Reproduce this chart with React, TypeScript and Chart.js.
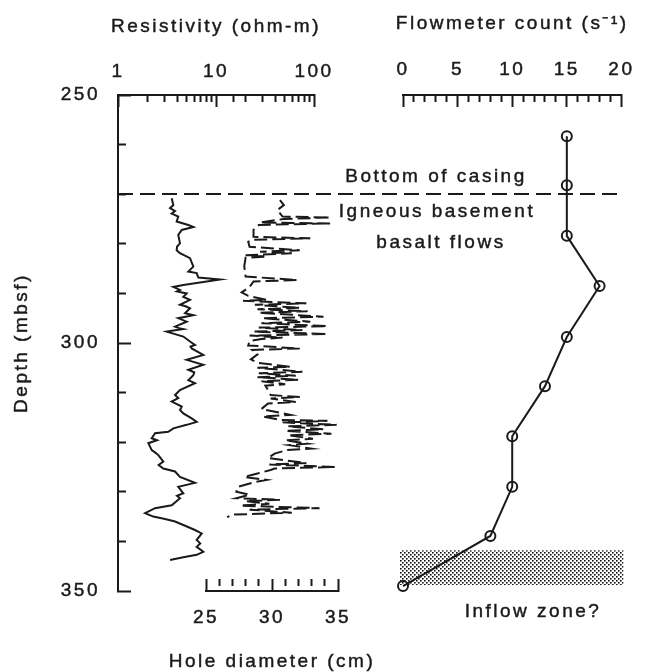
import React, { useEffect, useRef } from "react";
import { Chart, registerables } from "chart.js";

Chart.register(...registerables);

// ---- Resistivity log (ohm-m) against depth (mbsf) ----
const RES_DEPTH = [
  270.8, 272.2, 272.8, 273.4, 273.9, 274.5, 275.5, 276.2, 276.6, 277.2,
  278.2, 279.9, 280.6, 281.3, 281.9, 282.9, 284.6, 285.6, 285.9, 286.8,
  287.2, 288.3, 288.7, 289.3, 289.6, 290.0, 290.7, 291.3, 292.3, 292.6,
  293.0, 294.0, 294.4, 295.0, 295.7, 296.7, 297.0, 297.2, 297.7, 298.7,
  299.7, 300.4, 300.7, 301.1, 302.4, 303.4, 304.4, 305.4, 305.9, 306.5,
  307.5, 308.1, 309.5, 310.5, 311.1, 311.8, 312.8, 313.5, 314.2, 315.2,
  315.9, 316.5, 317.2, 317.9, 318.2, 319.2, 319.6, 320.2, 321.6, 322.1,
  322.6, 323.9, 324.6, 325.3, 325.9, 327.0, 328.2, 329.0, 330.3, 330.8,
  331.3, 332.7, 333.3, 334.3, 335.0, 335.5, 336.0, 336.7, 337.7, 338.4,
  339.7, 340.4, 341.1, 342.1, 342.7, 343.2, 343.75,
];
const RES_OHMM = [
  3.53, 3.67, 3.4, 3.82, 3.53, 4.12, 3.97, 5.22, 5.87, 4.47,
  4.12, 4.29, 4.0, 3.97, 4.29, 5.43, 5.87, 5.22, 6.35, 6.6,
  11.0, 4.64, 3.67, 4.29, 4.0, 5.02, 4.64, 5.43, 4.29, 4.9,
  5.43, 4.83, 5.87, 4.12, 5.02, 3.82, 4.2, 4.64, 3.14, 4.64,
  5.43, 6.1, 5.5, 5.65, 7.42, 5.02, 7.42, 5.22, 6.0, 5.87,
  5.22, 6.1, 4.29, 3.82, 4.12, 3.53, 4.47, 4.3, 4.64, 5.65,
  6.35, 5.02, 3.67, 3.26, 2.39, 2.21, 2.5, 2.04, 2.21, 2.4,
  2.58, 2.9, 2.6, 2.9, 3.82, 4.29, 6.1, 4.12, 4.64, 4.0,
  4.29, 3.53, 2.39, 1.89, 2.29, 3.02, 3.82, 4.64, 6.1, 7.15,
  6.35, 6.9, 6.35, 7.42, 6.35, 4.64, 3.4,
];

// ---- Caliper: hole diameter (cm) against depth (mbsf) ----
const CAL_DEPTH = [
  271.2, 272.2, 273.2, 274.5, 274.7, 275.0, 275.7, 275.9, 276.2, 277.2,
  278.6, 278.9, 279.2, 279.6, 280.6, 281.3, 281.6, 281.9, 282.3, 282.6,
  282.8, 284.5, 286.6, 287.3, 287.6, 288.7, 289.8, 290.5, 291.3, 291.5,
  292.0, 292.3, 292.9, 293.2, 293.6, 293.9, 294.7, 295.0, 295.7, 296.0,
  296.6, 296.9, 297.4, 297.7, 298.2, 298.5, 298.9, 299.2, 299.6, 300.5,
  301.1, 301.4, 302.3, 303.3, 304.0, 304.8, 305.0, 305.8, 306.1, 306.6,
  306.9, 307.4, 307.7, 308.3, 308.6, 309.5, 310.5, 310.9, 311.2, 311.9,
  312.2, 313.3, 314.5, 314.8, 315.5, 315.7, 316.0, 316.5, 316.8, 317.4,
  317.7, 318.3, 318.6, 319.3, 319.6, 320.3, 320.6, 321.3, 321.6, 322.3,
  323.2, 324.2, 324.5, 325.0, 325.3, 325.6, 326.3, 327.0, 327.6, 328.1,
  329.0, 330.0, 330.6, 331.3, 331.6, 331.9, 332.4, 332.8, 333.3, 333.6,
  334.2, 334.6, 335.1,
];
const CAL_CM = [
  30.6, 30.9, 30.4, 30.8, 34.4, 30.9, 29.1, 34.4, 29.0, 28.6,
  28.6, 32.9, 28.5, 28.2, 28.3, 32.1, 29.1, 31.5, 28.0, 29.6,
  28.0, 27.9, 28.0, 31.9, 28.6, 28.3, 27.7, 28.2, 29.6, 27.8,
  32.6, 28.7, 32.1, 28.9, 32.7, 29.0, 33.9, 29.3, 32.9, 29.2,
  34.2, 29.0, 32.3, 28.6, 34.2, 28.3, 30.8, 29.2, 28.3, 28.2,
  32.1, 28.5, 28.9, 28.4, 28.9, 31.4, 28.9, 32.3, 29.0, 31.8,
  28.9, 32.0, 29.2, 31.0, 29.5, 29.7, 29.9, 32.1, 29.9, 31.8,
  29.7, 29.2, 31.4, 29.3, 30.6, 34.2, 30.8, 34.9, 31.2, 33.9,
  31.0, 34.5, 31.2, 33.1, 31.0, 32.7, 31.3, 33.0, 31.1, 30.2,
  29.7, 32.6, 29.8, 34.8, 30.2, 29.9, 28.9, 27.9, 29.6, 28.6,
  27.4, 27.3, 28.3, 27.3, 30.6, 28.0, 29.8, 27.6, 33.6, 28.3,
  31.5, 27.0, 26.6,
];

// ---- Flowmeter stations ----
const FLOW_DEPTH = [258.3, 268.2, 278.4, 288.5, 298.8, 308.7, 318.8, 329.0, 338.9, 349.0];
const FLOW_COUNT = [15, 15, 15, 18, 15, 13, 10, 10, 8, 0];

const CASING_DEPTH = 270;
const INFLOW_TOP = 341.8;
const INFLOW_BOTTOM = 348.8;

const DEPTH_LABELS = [250, 300, 350];
const RES_LABELS = [1, 10, 100];
const DIAM_LABELS = [25, 30, 35];
const FLOW_LABELS = [0, 5, 10, 15, 20];

// ---- page geometry ----
const W = 658;
const H = 672;
const PLOT_TOP = 95;
const PLOT_BOTTOM = 591;
const RES_PANEL = { left: 118, right: 314 };
const DIAM_PANEL = { left: 206, right: 338 };
const FLOW_PANEL = { left: 403, right: 643 };

const INK = "#1a1a1a";
const FONT = { family: '"Liberation Sans", Arial, Helvetica, sans-serif', size: 19 };
const FONT_CSS = '19px "Liberation Sans", Arial, Helvetica, sans-serif';
const SPACING = "2.5px";
const TEXT_STROKE = 0.45;

const near = (list: number[], v: number) => list.some((t) => Math.abs(t - v) < 1e-6);

const letterSpacing = {
  id: "letterSpacing",
  beforeDraw(chart: any) {
    chart.ctx.letterSpacing = SPACING;
  },
};

type Note = { text: string; x: (c: any) => number; y: (c: any) => number; rotate?: boolean };

// text drawn on top of a chart: axis titles and notes
function notesPlugin(id: string, notes: Note[]) {
  return {
    id,
    afterDraw(chart: any) {
      const { ctx } = chart;
      ctx.save();
      ctx.letterSpacing = SPACING;
      ctx.font = FONT_CSS;
      ctx.fillStyle = INK;
      ctx.strokeStyle = INK;
      ctx.lineWidth = TEXT_STROKE;
      ctx.textAlign = "center";
      ctx.textBaseline = "middle";
      for (const n of notes) {
        ctx.save();
        ctx.translate(n.x(chart), n.y(chart));
        if (n.rotate) ctx.rotate(-Math.PI / 2);
        ctx.strokeText(n.text, 0, 0);
        ctx.fillText(n.text, 0, 0);
        ctx.restore();
      }
      ctx.restore();
    },
  };
}

// inward ticks: long for labelled values, short (dashed off near the tip) otherwise
function inwardTicks(isMajor: (v: number) => boolean, majorLen: number, minorLen: number) {
  return {
    display: true,
    drawOnChartArea: false,
    drawTicks: true,
    tickLength: -majorLen,
    tickColor: INK,
    tickWidth: 2,
    tickBorderDash: (ctx: any) =>
      ctx.tick && isMajor(ctx.tick.value) ? [] : [0, majorLen - minorLen, 60, 0],
  };
}

function tickLabels(labels: number[], padding: number, extra: any = {}) {
  return {
    autoSkip: false,
    maxRotation: 0,
    padding,
    color: INK,
    font: FONT,
    textStrokeColor: INK,
    textStrokeWidth: TEXT_STROKE,
    callback: (v: number) => (near(labels, v) ? String(v) : ""),
    ...extra,
  };
}

const border = { display: true, color: INK, width: 2 };

function baseOptions(padding: any) {
  return {
    responsive: false,
    animation: false as const,
    devicePixelRatio: 1,
    events: [] as any[],
    layout: { padding },
    plugins: { legend: { display: false }, tooltip: { enabled: false } },
  };
}

const hiddenDepth = { type: "linear" as const, display: false, reverse: true, min: 250, max: 350 };

function resistivityConfig(): any {
  return {
    type: "scatter",
    data: {
      datasets: [
        {
          data: RES_DEPTH.map((d, i) => ({ x: RES_OHMM[i], y: d })),
          showLine: true,
          borderColor: INK,
          borderWidth: 2,
          pointRadius: 0,
          tension: 0,
          clip: false,
        },
      ],
    },
    options: {
      ...baseOptions({ left: 8, top: 15, right: W - RES_PANEL.right, bottom: H - PLOT_BOTTOM }),
      scales: {
        x: {
          type: "logarithmic",
          position: "top",
          min: 1,
          max: 100,
          ticks: tickLabels(RES_LABELS, 24),
          grid: inwardTicks((v) => near(RES_LABELS, v), 12, 7),
          border,
          afterFit: (s: any) => {
            s.height = PLOT_TOP - 15;
          },
        },
        y: {
          type: "linear",
          position: "left",
          reverse: true,
          min: 250,
          max: 350,
          ticks: tickLabels(DEPTH_LABELS, 31, { stepSize: 10, maxTicksLimit: 1000 }),
          grid: inwardTicks((v) => near(DEPTH_LABELS, v), 13, 8),
          border,
          afterFit: (s: any) => {
            s.width = RES_PANEL.left - 8;
          },
        },
      },
    },
    plugins: [
      letterSpacing,
      notesPlugin("resTitles", [
        { text: "Resistivity (ohm-m)", x: (c) => (c.chartArea.left + c.chartArea.right) / 2, y: (c) => c.chartArea.top - 68 },
        { text: "Depth (mbsf)", x: () => 22, y: (c) => (c.chartArea.top + c.chartArea.bottom) / 2, rotate: true },
      ]),
    ],
  };
}

function caliperConfig(): any {
  return {
    type: "scatter",
    data: {
      datasets: [
        {
          data: CAL_DEPTH.map((d, i) => ({ x: CAL_CM[i], y: d })),
          showLine: true,
          borderColor: INK,
          borderWidth: 2,
          borderDash: [13, 5],
          pointRadius: 0,
          tension: 0,
          clip: false,
        },
      ],
    },
    options: {
      ...baseOptions({ left: DIAM_PANEL.left, top: PLOT_TOP, right: W - DIAM_PANEL.right, bottom: 0 }),
      scales: {
        x: {
          type: "linear",
          position: "bottom",
          min: 25,
          max: 35,
          ticks: tickLabels(DIAM_LABELS, 27, { stepSize: 1, maxTicksLimit: 1000 }),
          grid: inwardTicks((v) => near(DIAM_LABELS, v), 12, 6),
          border,
          afterFit: (s: any) => {
            s.height = H - PLOT_BOTTOM;
          },
        },
        y: hiddenDepth,
      },
    },
    plugins: [
      letterSpacing,
      notesPlugin("diamTitle", [
        { text: "Hole diameter (cm)", x: (c) => (c.chartArea.left + c.chartArea.right) / 2, y: (c) => c.chartArea.bottom + 71 },
      ]),
    ],
  };
}

function stipple(ctx: CanvasRenderingContext2D) {
  const tile = document.createElement("canvas");
  tile.width = 4;
  tile.height = 4;
  const t = tile.getContext("2d")!;
  t.fillStyle = "#111";
  t.fillRect(0, 0, 1.6, 1.6);
  t.fillRect(2, 2, 1.6, 1.6);
  return ctx.createPattern(tile, "repeat");
}

// inflow band and casing line on the flowmeter panel
const flowMarks = {
  id: "flowMarks",
  beforeDatasetsDraw(chart: any) {
    const { ctx, chartArea, scales } = chart;
    const y = scales.y;
    ctx.save();
    const top = y.getPixelForValue(INFLOW_TOP);
    const bottom = y.getPixelForValue(INFLOW_BOTTOM);
    ctx.fillStyle = stipple(ctx);
    ctx.fillRect(chartArea.left - 3, top, chartArea.right + 2 - (chartArea.left - 3), bottom - top);

    const cy = Math.round(y.getPixelForValue(CASING_DEPTH));
    ctx.strokeStyle = INK;
    ctx.lineWidth = 2;
    ctx.setLineDash([15, 7]);
    ctx.beginPath();
    ctx.moveTo(RES_PANEL.left, cy);
    ctx.lineTo(chartArea.right - 3, cy);
    ctx.stroke();
    ctx.restore();
  },
};

function flowConfig(): any {
  const casingY = (c: any) => c.scales.y.getPixelForValue(CASING_DEPTH);
  return {
    type: "scatter",
    data: {
      datasets: [
        {
          data: FLOW_DEPTH.map((d, i) => ({ x: FLOW_COUNT[i], y: d })),
          showLine: true,
          borderColor: INK,
          borderWidth: 2,
          pointStyle: "circle",
          pointRadius: 5,
          pointBorderWidth: 2,
          pointBorderColor: INK,
          pointBackgroundColor: "rgba(0,0,0,0)",
          tension: 0,
          clip: false,
        },
      ],
    },
    options: {
      ...baseOptions({ left: FLOW_PANEL.left, top: 13, right: W - FLOW_PANEL.right, bottom: H - PLOT_BOTTOM }),
      scales: {
        x: {
          type: "linear",
          position: "top",
          min: 0,
          max: 20,
          ticks: tickLabels(FLOW_LABELS, 26, { stepSize: 1, maxTicksLimit: 1000 }),
          grid: inwardTicks((v) => near(FLOW_LABELS, v), 12, 7),
          border,
          afterFit: (s: any) => {
            s.height = PLOT_TOP - 13;
          },
        },
        y: hiddenDepth,
      },
    },
    plugins: [
      letterSpacing,
      flowMarks,
      notesPlugin("flowNotes", [
        { text: "Flowmeter count (s\u207B\u00B9)", x: (c) => (c.chartArea.left + c.chartArea.right) / 2, y: (c) => c.chartArea.top - 71 },
        { text: "Bottom of casing", x: () => 436, y: (c) => casingY(c) - 17 },
        { text: "Igneous basement", x: () => 437, y: (c) => casingY(c) + 18 },
        { text: "basalt flows", x: () => 441, y: (c) => casingY(c) + 49 },
        { text: "Inflow zone?", x: () => 533, y: (c) => c.scales.y.getPixelForValue(INFLOW_BOTTOM) + 27 },
      ]),
    ],
  };
}

export default function App() {
  const resRef = useRef<HTMLCanvasElement>(null);
  const calRef = useRef<HTMLCanvasElement>(null);
  const flowRef = useRef<HTMLCanvasElement>(null);

  useEffect(() => {
    const charts = [
      new Chart(resRef.current!, resistivityConfig()),
      new Chart(calRef.current!, caliperConfig()),
      new Chart(flowRef.current!, flowConfig()),
    ];
    return () => charts.forEach((c) => c.destroy());
  }, []);

  const layer: React.CSSProperties = { position: "absolute", left: 0, top: 0, width: W, height: H };

  return (
    <div style={{ position: "absolute", left: 0, top: 0, width: W, height: H, overflow: "hidden", background: "#fff" }}>
      <canvas ref={resRef} width={W} height={H} style={layer} />
      <canvas ref={calRef} width={W} height={H} style={layer} />
      <canvas ref={flowRef} width={W} height={H} style={layer} />
    </div>
  );
}
